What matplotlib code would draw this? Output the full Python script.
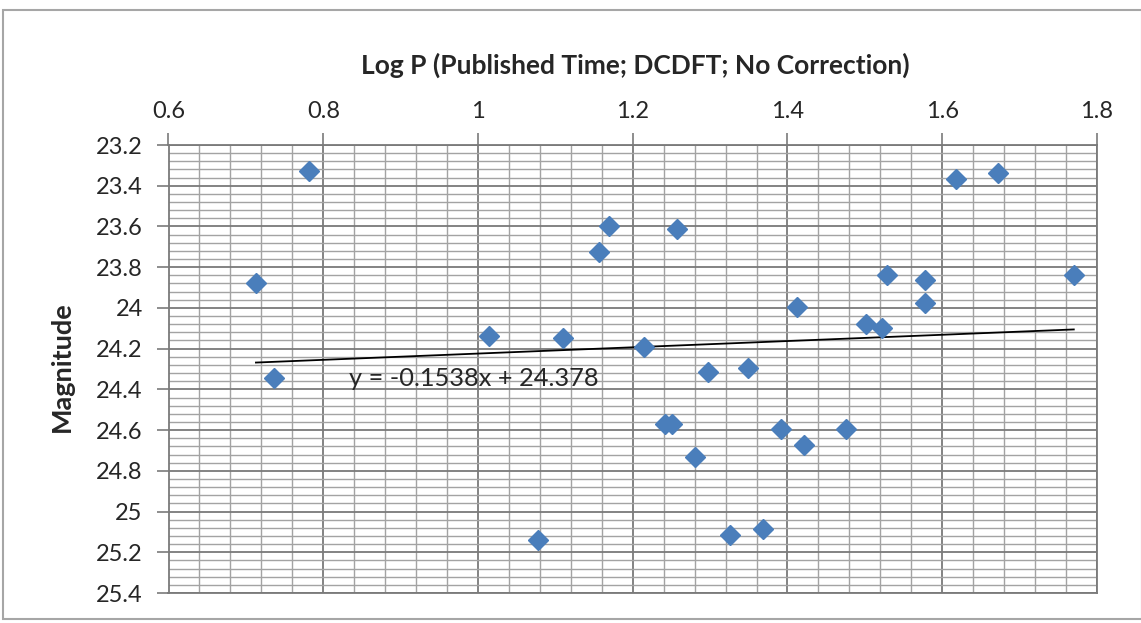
import numpy as np
import matplotlib
matplotlib.use("Agg")
import matplotlib.pyplot as plt
from matplotlib.ticker import MultipleLocator, FuncFormatter
from matplotlib.patches import Rectangle

# Data
log_p = [0.782, 0.713, 0.736, 1.014, 1.110, 1.077, 1.169, 1.157, 1.257, 1.412,
         1.215, 1.297, 1.349, 1.242, 1.251, 1.281, 1.392, 1.421, 1.475, 1.326,
         1.368, 1.529, 1.578, 1.578, 1.501, 1.522, 1.770, 1.618, 1.672]
magnitude = [23.328, 23.880, 24.343, 24.139, 24.147, 25.141, 23.598, 23.724, 23.613, 23.995,
             24.191, 24.314, 24.297, 24.571, 24.571, 24.732, 24.596, 24.671, 24.597, 25.113,
             25.088, 23.839, 23.863, 23.978, 24.080, 24.101, 23.839, 23.369, 23.339]
trend_slope = -0.1538
trend_intercept = 24.378
x_ticks = [0.6, 0.8, 1.0, 1.2, 1.4, 1.6, 1.8]
y_ticks = [23.2, 23.4, 23.6, 23.8, 24.0, 24.2, 24.4, 24.6, 24.8, 25.0, 25.2, 25.4]

FONT = ["Lato", "DejaVu Sans"]
plt.rcParams['font.family'] = FONT

W, H = 1141, 623
fig = plt.figure(figsize=(W / 100, H / 100), dpi=100)
fig.patch.set_facecolor("white")

# outer chart border
fig.add_artist(Rectangle((3 / W, 4 / H), (W - 2) / W, (H - 14) / H,
                         transform=fig.transFigure, fill=False,
                         edgecolor="#a6a6a6", lw=1.5))

left, right, top, bottom = 168.5, 1097, 145, 593
ax = fig.add_axes([left / W, 1 - bottom / H, (right - left) / W, (bottom - top) / H])

ax.set_xlim(0.6, 1.8)
ax.set_ylim(25.4, 23.2)
ax.xaxis.tick_top()
ax.set_xticks(x_ticks)
ax.set_yticks(y_ticks)
ax.xaxis.set_minor_locator(MultipleLocator(0.04))
ax.yaxis.set_minor_locator(MultipleLocator(0.04))

def fmt(v, pos):
    s = f"{v:.1f}"
    if s.endswith(".0"):
        s = s[:-2]
    return s

ax.xaxis.set_major_formatter(FuncFormatter(fmt))
ax.yaxis.set_major_formatter(FuncFormatter(fmt))

ax.grid(which="major", color="#7a7a7a", lw=1.3)
ax.grid(which="minor", color="#a3a3a3", lw=1.0)
ax.set_axisbelow(True)

ax.tick_params(which="major", direction="out", length=8.6, width=1.2, color="#7a7a7a",
               labelsize=17, labelcolor="#262626", pad=10)
ax.tick_params(axis="x", which="major", pad=8)
ax.tick_params(which="minor", length=0)
for s in ax.spines.values():
    s.set_color("#7a7a7a")
    s.set_linewidth(1.3)

# axis titles placed at the reference positions (figure pixels)
fig.text(635 / W, 1 - 65 / H, "Log P (Published Time; DCDFT; No Correction)",
         fontsize=19, fontweight="bold", color="#262626", ha="center", va="center")
fig.text(62 / W, 1 - 367 / H, "Magnitude", fontsize=19.5, fontweight="bold",
         color="#262626", ha="center", va="center", rotation=90)

# trendline
xs = np.array([min(log_p), max(log_p)])
ax.plot(xs, trend_slope * xs + trend_intercept, color="black", lw=1.3, zorder=3)

ax.plot(log_p, magnitude, linestyle="none", marker="D", markersize=10,
        color="#4a7ebb", markeredgecolor="#4a7ebb", zorder=4, clip_on=False)

ax.text(0.833, 24.345, f"y = {trend_slope}x + {trend_intercept}", fontsize=18.3,
        color="#262626", va="center", ha="left", zorder=5)

fig.savefig("out.png", dpi=100, facecolor="white")
